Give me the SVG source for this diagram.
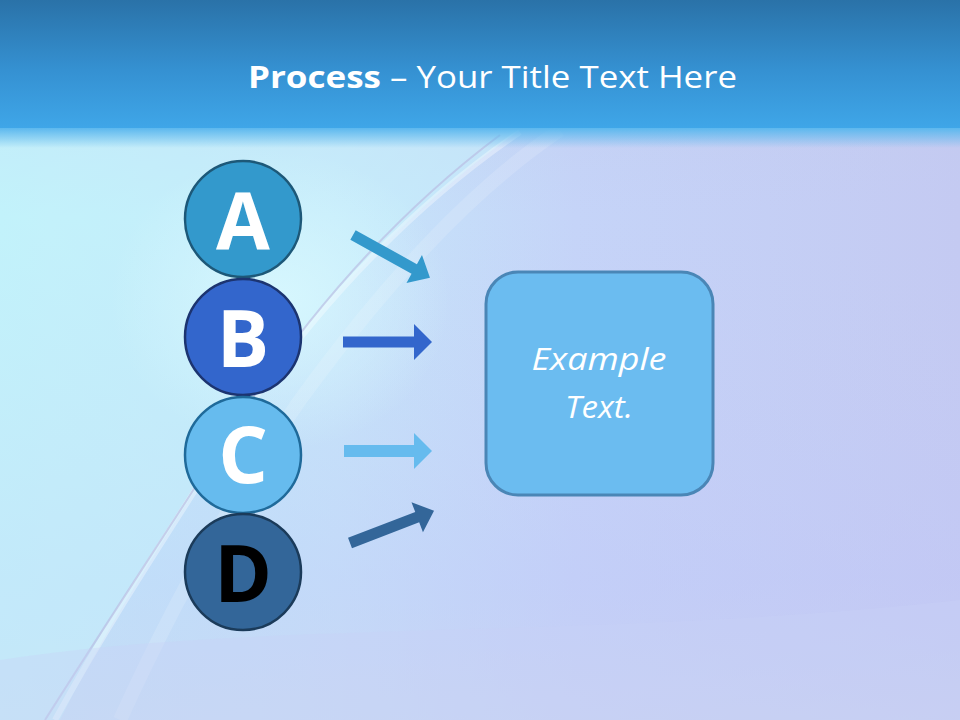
<svg xmlns="http://www.w3.org/2000/svg" width="960" height="720" viewBox="0 0 960 720">
<defs>
<linearGradient id="band" x1="0" y1="0" x2="0" y2="1">
<stop offset="0" stop-color="#2a72a8"/>
<stop offset="0.55" stop-color="#3591d2"/>
<stop offset="1" stop-color="#3fa6e8"/>
</linearGradient>
<linearGradient id="bandEdge" x1="0" y1="0" x2="0" y2="1">
<stop offset="0" stop-color="#5cb8ee" stop-opacity="1"/>
<stop offset="1" stop-color="#5cb8ee" stop-opacity="0"/>
</linearGradient>
<linearGradient id="bg" x1="0" y1="0" x2="1" y2="0">
<stop offset="0" stop-color="#bff3fa"/>
<stop offset="0.35" stop-color="#c6e6fa"/>
<stop offset="0.6" stop-color="#c5d4f8"/>
<stop offset="1" stop-color="#c4caf2"/>
</linearGradient>
<linearGradient id="bgV" x1="0" y1="0" x2="0" y2="1">
<stop offset="0" stop-color="#c0c8dc" stop-opacity="0.6"/>
<stop offset="0.3" stop-color="#c4ccf4" stop-opacity="0"/>
<stop offset="0.8" stop-color="#c0c6f8" stop-opacity="0.4"/>
<stop offset="1" stop-color="#c8d0f0" stop-opacity="0.6"/>
</linearGradient>
<radialGradient id="glow" cx="0.5" cy="0.5" r="0.5">
<stop offset="0" stop-color="#d8f8fe" stop-opacity="0.9"/>
<stop offset="1" stop-color="#d8f8fe" stop-opacity="0"/>
</radialGradient>
<style>
.node circle{stroke-width:2.5}
.lbl{font-family:"Open Sans","Noto Sans","Liberation Sans",sans-serif;font-weight:bold;font-size:78px;text-anchor:middle}
.title{font-family:"Open Sans","Noto Sans","Liberation Sans",sans-serif;fill:#ffffff;font-size:31px}
.box text{font-family:"Open Sans","Noto Sans","Liberation Sans",sans-serif;font-style:italic;fill:#ffffff;font-size:31px;text-anchor:middle}
</style>
</defs>

<!-- background -->
<rect x="0" y="0" width="960" height="720" fill="url(#bg)"/>
<rect x="0" y="0" width="960" height="720" fill="url(#bgV)"/>
<path d="M0,130 L520,130 C420,200 320,300 240,420 C170,530 110,620 60,720 L0,720 Z" fill="#c6f2fb" opacity="0.5"/>
<ellipse cx="280" cy="300" rx="170" ry="150" fill="url(#glow)"/>
<path d="M520,132 C420,200 320,300 240,420 C170,530 110,620 55,720" fill="none" stroke="#ffffff" stroke-width="6" opacity="0.35"/>
<path d="M500,135 C400,210 310,310 235,425 C165,535 105,625 45,720" fill="none" stroke="#b8b8e0" stroke-width="2" opacity="0.6"/>
<path d="M560,130 C470,190 380,290 300,400 C230,500 170,610 120,720" fill="none" stroke="#ffffff" stroke-width="14" opacity="0.14"/>
<path d="M0,660 C250,620 600,640 960,600 L960,720 L0,720 Z" fill="#c8d2f6" opacity="0.35"/>

<!-- header band -->
<rect x="0" y="0" width="960" height="128" fill="url(#band)"/>
<rect x="0" y="128" width="960" height="20" fill="url(#bandEdge)"/>

<g id="title">
<text class="title" x="248" y="88" font-weight="bold" textLength="133" lengthAdjust="spacingAndGlyphs">Process</text>
<text class="title" x="390" y="88" textLength="347" lengthAdjust="spacingAndGlyphs">– Your Title Text Here</text>
</g>

<g id="connectors">
<polygon fill="#3399cc" transform="translate(353,235) rotate(29)" points="0,-5.5 70,-5.5 70,-16 88,0 70,16 70,5.5 0,5.5"/>
<polygon fill="#3366cc" transform="translate(343,342)" points="0,-5.5 71,-5.5 71,-18 89,0 71,18 71,5.5 0,5.5"/>
<polygon fill="#66bbee" transform="translate(344,451)" points="0,-6 70,-6 70,-18 88,0 70,18 70,6 0,6"/>
<polygon fill="#336699" transform="translate(350,543) rotate(-21)" points="0,-5.5 72,-5.5 72,-16 90,0 72,16 72,5.5 0,5.5"/>
</g>

<g id="node-A" class="node">
<circle cx="243" cy="219" r="58" fill="#3399cc" stroke="#1d5878"/>
<text class="lbl" x="243" y="249" fill="#ffffff">A</text>
</g>
<g id="node-B" class="node">
<circle cx="243" cy="337" r="58" fill="#3366cc" stroke="#1c3470"/>
<text class="lbl" x="243" y="367" fill="#ffffff">B</text>
</g>
<g id="node-C" class="node">
<circle cx="243" cy="455" r="58" fill="#66bbee" stroke="#1f6a9a"/>
<text class="lbl" x="243" y="483" fill="#ffffff">C</text>
</g>
<g id="node-D" class="node">
<circle cx="243" cy="572" r="58" fill="#336699" stroke="#1b3b5a"/>
<text class="lbl" x="243" y="602" fill="#000000">D</text>
</g>

<g id="box" class="box">
<rect x="486" y="272" width="227" height="223" rx="32" ry="32" fill="#6bbcf0" stroke="#4a86b6" stroke-width="3"/>
<text x="599" y="370" textLength="135" lengthAdjust="spacingAndGlyphs">Example</text>
<text x="599" y="418" textLength="68" lengthAdjust="spacingAndGlyphs">Text.</text>
</g>
</svg>
